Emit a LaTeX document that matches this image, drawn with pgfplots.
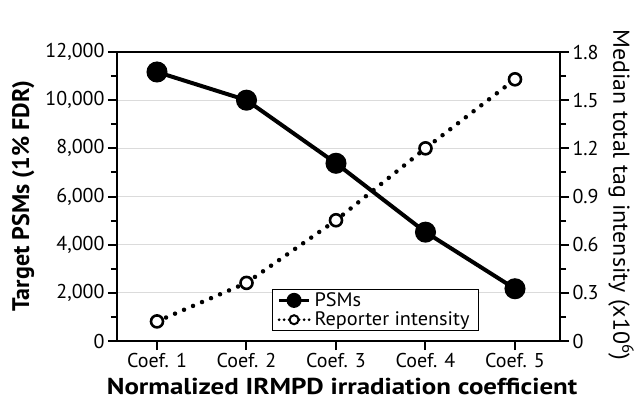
\documentclass[border=0pt]{standalone}
\usepackage{fontspec}
\setmainfont{PT Sans}
\newfontfamily\xlabfont{PT Sans}[FakeStretch=1.17]
\newfontfamily\rlabfont{PT Sans}[FakeStretch=1.04]
\newfontfamily\legfont{PT Sans}[FakeStretch=1.04]
\usepackage{pgfplots}
\pgfplotsset{compat=1.18}
\pgfplotsset{
  common/.style={
    at={(0pt,0pt)}, anchor=south west,
    width=443pt, height=289pt, scale only axis,
    xmin=0.553, xmax=5.503,
    tick align=outside,
    major tick length=9pt, minor tick length=6pt,
    every tick/.style={black, line width=2pt},
    axis line style={line width=2.5pt},
    minor y tick num=1,
    tick label style={font=\fontsize{20}{22}\selectfont},
  },
}
\begin{document}
\begin{tikzpicture}
\path[use as bounding box] (-117pt,-61pt) rectangle (518pt,341pt);
\begin{axis}[common,
  ymin=0, ymax=12000,
  xtick={1,2,3,4,5}, xticklabels={Coef. 1,Coef. 2,Coef. 3,Coef. 4,Coef. 5},
  ytick={0,2000,4000,6000,8000,10000,12000},
  scaled y ticks=false,
  xtick pos=bottom, ytick pos=left,
  ymajorgrids, grid style={black!14, line width=1pt},
  /pgf/number format/assume math mode=true,
  /pgf/number format/1000 sep={,},
  xlabel={Normalized IRMPD irradiation coefficient},
  ylabel={Target PSMs (1\% FDR)},
  xlabel style={font=\fontsize{23}{25}\selectfont\xlabfont\bfseries, at={(axis description cs:0.508,-0.157)}, anchor=center},
  ylabel style={font=\fontsize{24}{26}\selectfont\bfseries, at={(axis description cs:-0.212,0.502)}, anchor=center},
]
\addplot[black, line width=4pt, mark=*, mark size=8.5pt] coordinates {(1,11170) (2,10000) (3,7380) (4,4520) (5,2170)};
\end{axis}
\begin{axis}[common,
  ymin=0, ymax=1.8,
  xtick=\empty,
  ytick={0,0.3,0.6,0.9,1.2,1.5,1.8},
  yticklabels={0,0.3,0.6,0.9,1.2,1.5,1.8},
  ytick pos=right, yticklabel pos=right,
  ylabel={Median total tag intensity (x10\textsuperscript{6})},
  ylabel style={font=\fontsize{23}{25}\selectfont\rlabfont, at={(axis description cs:1.138,0.505)}, anchor=center, rotate=180},
  legend image code/.code={\draw[mark repeat=2, mark phase=2, #1] plot coordinates {(0pt,0pt) (15pt,0pt) (30pt,0pt)};},
  legend style={at={(0.817,0.035)}, anchor=south east, draw=black, line width=1pt,
    font=\fontsize{19.5}{21}\selectfont\legfont, inner xsep=5pt, inner ysep=1pt, row sep=0pt,
    nodes={inner xsep=4pt, inner ysep=2pt}},
  legend cell align=left,
]
\addlegendimage{black, line width=3pt, mark=*, mark size=6pt}
\addlegendentry{PSMs}
\addplot[black, line width=4.5pt, line cap=round, dash pattern=on 0pt off 9.8pt,
  mark=*, mark size=6pt, mark options={solid, fill=white, line width=2.6pt},
  legend image post style={line width=3pt, dash pattern=on 0pt off 5pt, mark size=4.5pt, mark options={solid, fill=white, line width=2pt}}]
  coordinates {(1,0.122) (2,0.362) (3,0.752) (4,1.20) (5,1.63)};
\addlegendentry{Reporter intensity}
\end{axis}
\end{tikzpicture}
\end{document}
